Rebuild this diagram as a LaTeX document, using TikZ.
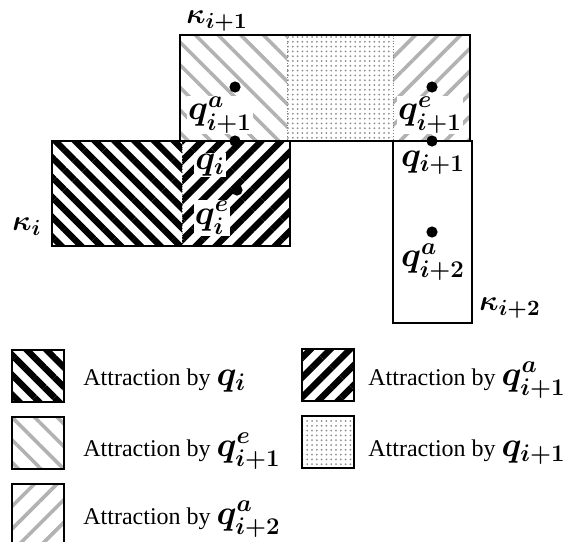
\documentclass[tikz,border=0pt]{standalone}
\usepackage{fontspec}
\setmainfont{Liberation Serif}
\usepackage{amsmath}
\usetikzlibrary{patterns.meta}
\newcommand{\qlab}[1]{{\fontsize{17}{20}\selectfont\boldmath$#1$}}
\tikzset{
  border/.style={draw=black, line width=1pt},
  heavyback/.style={pattern={Lines[angle=-45,distance=7pt,line width=3.2pt]}},
  heavyfwd/.style={pattern={Lines[angle=45,distance=7pt,line width=3.2pt]}},
  lightback/.style={pattern={Lines[angle=-45,distance=8pt,line width=1.8pt]}, pattern color=gray!60},
  lightfwd/.style={pattern={Lines[angle=45,distance=8pt,line width=1.8pt]}, pattern color=gray!60},
  dotfill/.style={pattern={Dots[distance=2.4pt,radius=0.5pt]}, pattern color=gray!90},
  divider/.style={gray, densely dotted, line width=0.4pt},
  dotpt/.style={circle, fill=black, inner sep=0pt, minimum size=5.6pt},
  qlabel/.style={inner sep=0.5pt, font=\fontsize{17}{20}\selectfont\boldmath},
  cellname/.style={inner sep=0.5pt, font=\fontsize{15}{18}\selectfont\boldmath},
  knock/.style={qlabel, fill=white},
  keytext/.style={anchor=base west, inner sep=0pt, font=\fontsize{12}{14}\selectfont},
}
\begin{document}
\begin{tikzpicture}[x=0.5pt,y=-0.5pt]
\useasboundingbox (0,0) rectangle (577,541);

% Regions
\path[heavyback] (52,141) rectangle (182,246);
\path[heavyfwd] (182,141) rectangle (290,246);
\path[lightback] (180,35) rectangle (287,141);
\path[dotfill] (287,35) rectangle (393,141);
\path[lightfwd] (393,35) rectangle (470,141);
\draw[divider] (182,141) -- (182,246);
\draw[divider] (287,35) -- (287,141);
\draw[divider] (393,35) -- (393,141);
\draw[border] (180,35) rectangle (470,141);
\draw[border] (52,141) rectangle (290,246);
\draw[border] (393,141) rectangle (472,323);

% Cell names
\node[cellname] (kapi1) at (217,21) {$\kappa_{i+1}$};
\node[cellname] (kapi) at (27,227) {$\kappa_{i}$};
\node[cellname] (kapi2) at (510,308) {$\kappa_{i+2}$};

% Configurations
\node[knock] (lqa1) at (220,115) {$q^a_{i+1}$};
\node[knock] (lqe1) at (430,115) {$q^e_{i+1}$};
\node[knock] (lqi) at (210,165) {$q_{i}$};
\node[knock] (lqei) at (212,218) {$q^e_{i}$};
\node[qlabel] (lq1) at (433,163) {$q_{i+1}$};
\node[qlabel] (lqa2) at (433,262) {$q^a_{i+2}$};

\node[dotpt] (qa1) at (235,87) {};
\node[dotpt] (qe1) at (432,87) {};
\node[dotpt] (qi) at (235,141) {};
\node[dotpt] (qei) at (237,190) {};
\node[dotpt] (q1) at (432,141) {};
\node[dotpt] (qa2) at (432,232) {};

% Legend
\path[heavyback] (12,350) rectangle (64,402);
\draw[border] (12,350) rectangle (64,402);
\node[keytext] (key1) at (83,385) {Attraction by \qlab{q_i}};
\path[heavyfwd] (302,349) rectangle (354,401);
\draw[border] (302,349) rectangle (354,401);
\node[keytext] (key2) at (368,385) {Attraction by \qlab{q^a_{i+1}}};
\path[lightback] (12,417) rectangle (64,469);
\draw[border] (12,417) rectangle (64,469);
\node[keytext] (key3) at (83,456) {Attraction by \qlab{q^e_{i+1}}};
\path[dotfill] (302,416) rectangle (354,468);
\draw[border] (302,416) rectangle (354,468);
\node[keytext] (key4) at (368,456) {Attraction by \qlab{q_{i+1}}};
\path[lightfwd] (12,484) rectangle (64,550);
\draw[border] (12,484) rectangle (64,550);
\node[keytext] (key5) at (83,524) {Attraction by \qlab{q^a_{i+2}}};

\end{tikzpicture}
\end{document}
